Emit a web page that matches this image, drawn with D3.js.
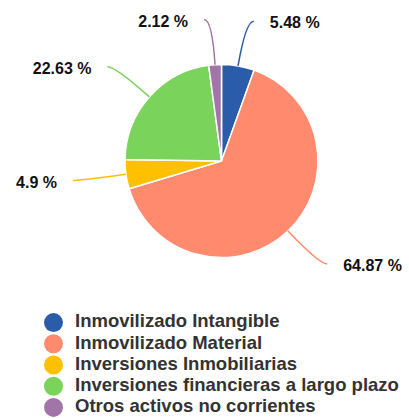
<!DOCTYPE html>
<html>
<head>
<meta charset="utf-8">
<script src="https://cdn.jsdelivr.net/npm/d3@7"></script>
<style>
  body { margin: 0; background: #fff; }
  text { font-family: "Liberation Sans", Arial, sans-serif; font-weight: bold; }
</style>
</head>
<body>
<svg id="chart" width="409" height="418"></svg>
<script>
// chart data
const categories = ["Inmovilizado Intangible", "Inmovilizado Material", "Inversiones Inmobiliarias",
  "Inversiones financieras a largo plazo", "Otros activos no corrientes"];
const values = [5.48, 64.87, 4.9, 22.63, 2.12];
const labels = ["5.48 %", "64.87 %", "4.9 %", "22.63 %", "2.12 %"];
const colors = ["#2a5caa", "#ff8a6e", "#ffc000", "#7ad35a", "#a275a8"];

const svg = d3.select("#chart");
const cx = 221.5, cy = 161, radius = 96.5;

const pie = d3.pie().sort(null).value(d => d);
const arcs = pie(values);
const arc = d3.arc().innerRadius(0).outerRadius(radius);

const g = svg.append("g").attr("transform", `translate(${cx},${cy})`);

// slices
g.selectAll("path.slice")
  .data(arcs)
  .enter()
  .append("path")
  .attr("class", "slice")
  .attr("d", arc)
  .attr("fill", (d, i) => colors[i])
  .attr("stroke", "#fff")
  .attr("stroke-width", 1.5);

// point on circle of radius r at the middle of the slice
function midPoint(d, r) {
  const a = (d.startAngle + d.endAngle) / 2;
  return [r * Math.sin(a), -r * Math.cos(a)];
}
function side(d) {
  return midPoint(d, 1)[0] >= 0 ? 1 : -1;
}

// leader lines
g.selectAll("path.leader")
  .data(arcs)
  .enter()
  .append("path")
  .attr("class", "leader")
  .attr("fill", "none")
  .attr("stroke", (d, i) => colors[i])
  .attr("stroke-width", 1.5)
  .attr("d", d => {
    const s = midPoint(d, radius);
    const e = midPoint(d, radius * 1.47);
    const end = [e[0] + side(d) * 8, e[1]];
    return `M${s[0]},${s[1]}Q${e[0]},${e[1]} ${end[0]},${end[1]}`;
  });

// value labels
g.selectAll("text.value")
  .data(arcs)
  .enter()
  .append("text")
  .attr("class", "value")
  .attr("x", d => midPoint(d, radius * 1.47)[0] + side(d) * 24)
  .attr("y", d => midPoint(d, radius * 1.47)[1] + 3)
  .attr("dominant-baseline", "middle")
  .attr("text-anchor", d => side(d) > 0 ? "start" : "end")
  .attr("font-size", 16)
  .attr("fill", "#111")
  .text((d, i) => labels[i]);

// legend
const rowY = d3.scaleBand().domain(categories).range([312, 418]);
const legend = svg.append("g").attr("id", "legend");
const rows = legend.selectAll("g")
  .data(categories)
  .enter()
  .append("g")
  .attr("transform", d => `translate(53.5, ${rowY(d) + rowY.bandwidth() / 2})`);

rows.append("circle")
  .attr("r", 9.5)
  .attr("fill", (d, i) => colors[i]);

rows.append("text")
  .attr("x", 21.5)
  .attr("dominant-baseline", "middle")
  .attr("font-size", 18.5)
  .attr("fill", "#333")
  .text(d => d);
</script>
</body>
</html>
